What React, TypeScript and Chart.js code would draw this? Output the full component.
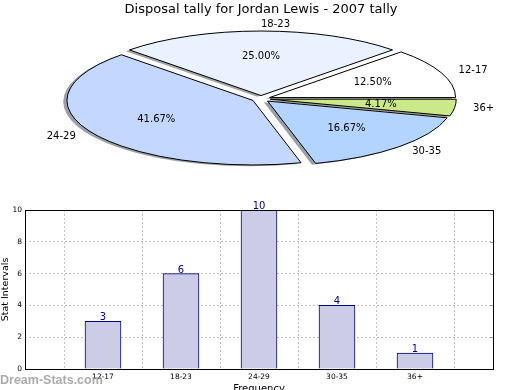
import React, { useEffect, useRef } from 'react';
import { Chart, registerables } from 'chart.js';

Chart.register(...registerables);

// ---------- data ----------
const TITLE = 'Disposal tally for Jordan Lewis - 2007 tally';
const categories = ['12-17', '18-23', '24-29', '30-35', '36+'];
const counts = [3, 6, 10, 4, 1];
const yMin = 0;
const yMax = 10;
const yTickStep = 2;
const xAxisTitle = 'Frequency';
const yAxisTitle = 'Stat Intervals';
const watermark = 'Dream-Stats.com';

// ---------- styles ----------
const pieColors = ['#ffffff', '#eaf2ff', '#c4d8ff', '#b3d4ff', '#cce98a'];
const pieExplode = [0.05, 0.05, 0.05, 0.05, 0.05];
const FONT = "'DejaVu Sans', sans-serif";
const ELLIPSE_Y = 0.347;
const PIE_RADIUS = 186;
const BAR_FILL = '#ccccE6';
const BAR_EDGE = '#000080';
const GRID = 'rgba(150,150,150,0.6)';

function ellipse(ctx: CanvasRenderingContext2D, cx: number, cy: number) {
  ctx.translate(cx, cy);
  ctx.scale(1, -ELLIPSE_Y);
  ctx.translate(-cx, -cy);
}
function project(x: number, y: number, cx: number, cy: number) {
  return [x, cy - ELLIPSE_Y * (y - cy)];
}
function wedgeGeom(el: any, i: number) {
  const p = el.getProps(['x', 'y', 'startAngle', 'endAngle', 'outerRadius'], true);
  const half = (p.startAngle + p.endAngle) / 2;
  const e = pieExplode[i] * p.outerRadius;
  const dx = Math.cos(half) * e;
  const dy = Math.sin(half) * e;
  return {
    dx,
    dy,
    cx: p.x + dx,
    cy: p.y + dy,
    r: p.outerRadius,
    s: p.startAngle,
    e: p.endAngle,
    half,
  };
}
function wedgePath(ctx: CanvasRenderingContext2D, g: any) {
  ctx.beginPath();
  ctx.moveTo(g.cx, g.cy);
  ctx.arc(g.cx, g.cy, g.r, g.s, g.e);
  ctx.closePath();
}
function shadowColor(hex: string) {
  const n = parseInt(hex.slice(1), 16);
  const r = Math.round(((n >> 16) & 255) * 0.3);
  const g = Math.round(((n >> 8) & 255) * 0.3);
  const b = Math.round((n & 255) * 0.3);
  return `rgba(${r},${g},${b},0.5)`;
}

const piePlugin = {
  id: 'ellipsePie',
  beforeDatasetsDraw(chart: any) {
    const ctx = chart.ctx as CanvasRenderingContext2D;
    const meta = chart.getDatasetMeta(0);
    const cx = meta.data[0].x;
    const cy = meta.data[0].y;
    const R = meta.data[0].outerRadius;
    const geoms = meta.data.map((el: any, i: number) => wedgeGeom(el, i));

    // shadows (below every wedge)
    ctx.save();
    ctx.translate(-0.02 * R, 0.02 * R * ELLIPSE_Y);
    ellipse(ctx, cx, cy);
    geoms.forEach((g: any, i: number) => {
      wedgePath(ctx, g);
      ctx.fillStyle = shadowColor(pieColors[i]);
      ctx.fill();
    });
    ctx.restore();

    // wedge fills through the library's arc elements
    meta.data.forEach((el: any, i: number) => {
      ctx.save();
      ellipse(ctx, cx, cy);
      ctx.translate(geoms[i].dx, geoms[i].dy);
      el.draw(ctx);
      ctx.restore();
    });

    // edges with an even 1px width
    geoms.forEach((g: any) => {
      ctx.save();
      ellipse(ctx, cx, cy);
      wedgePath(ctx, g);
      ctx.restore();
      ctx.lineWidth = 1;
      ctx.strokeStyle = '#000';
      ctx.stroke();
    });

    // labels
    const total = counts.reduce((a, b) => a + b, 0);
    ctx.save();
    ctx.fillStyle = '#000';
    ctx.font = `10px ${FONT}`;
    ctx.textBaseline = 'middle';
    geoms.forEach((g: any, i: number) => {
      const c = Math.cos(g.half);
      const s = Math.sin(g.half);
      const [lx, ly] = project(g.cx + 1.1 * g.r * c, g.cy + 1.1 * g.r * s, cx, cy);
      ctx.textAlign = c > -1e-9 ? 'left' : 'right';
      ctx.fillText(categories[i], lx, ly);
      const [px, py] = project(g.cx + 0.6 * g.r * c, g.cy + 0.6 * g.r * s, cx, cy);
      ctx.textAlign = 'center';
      ctx.fillText(((counts[i] / total) * 100).toFixed(2) + '%', px, py);
    });
    ctx.restore();
    return false;
  },
};

const barPlugin = {
  id: 'barExtras',
  afterDraw(chart: any) {
    const ctx = chart.ctx as CanvasRenderingContext2D;
    const { left, right, top, bottom } = chart.chartArea;
    ctx.save();
    // small tick marks on the right edge
    const yScale = chart.scales.y;
    ctx.strokeStyle = '#999';
    ctx.lineWidth = 1;
    yScale.ticks.forEach((t: any) => {
      const py = Math.round(yScale.getPixelForValue(t.value)) + 0.5;
      ctx.beginPath();
      ctx.moveTo(right - 3, py);
      ctx.lineTo(right, py);
      ctx.stroke();
    });
    // frame
    ctx.strokeStyle = '#000';
    ctx.strokeRect(Math.round(left) + 0.5, Math.round(top) + 0.5, Math.round(right - left), Math.round(bottom - top));
    // value labels
    const meta = chart.getDatasetMeta(0);
    ctx.fillStyle = '#00008b';
    ctx.font = `10px ${FONT}`;
    ctx.textAlign = 'center';
    ctx.textBaseline = 'alphabetic';
    meta.data.forEach((bar: any, i: number) => {
      ctx.fillText(String(counts[i]), bar.x, bar.y - 1);
    });
    // watermark
    ctx.font = `bold 12.5px 'Liberation Sans', sans-serif`;
    ctx.fillStyle = 'rgba(150,150,150,0.8)';
    ctx.textAlign = 'left';
    ctx.textBaseline = 'middle';
    ctx.fillText(watermark, 0, 381);
    ctx.restore();
  },
};

export default function App() {
  const pieRef = useRef<HTMLCanvasElement>(null);
  const barRef = useRef<HTMLCanvasElement>(null);

  useEffect(() => {
    const pie = new Chart(pieRef.current as HTMLCanvasElement, {
      type: 'pie',
      data: {
        labels: categories,
        datasets: [
          {
            data: counts,
            backgroundColor: pieColors,
            borderWidth: 0,
            clip: false,
          } as any,
        ],
      },
      options: {
        responsive: false,
        animation: false,
        radius: PIE_RADIUS,
        rotation: 90,
        events: [],
        layout: { padding: { top: 0, bottom: 20, left: 2, right: 0 } },
        plugins: {
          legend: { display: false },
          tooltip: { enabled: false },
          title: {
            display: true,
            text: TITLE,
            color: '#000',
            font: { family: FONT, size: 13, weight: 'normal' },
            padding: { top: 2, bottom: 0 },
          },
        },
      } as any,
      plugins: [piePlugin],
    });

    const bar = new Chart(barRef.current as HTMLCanvasElement, {
      type: 'bar',
      data: {
        datasets: [
          {
            data: categories.map((c, i) => ({ x: i, y: counts[i] })),
            backgroundColor: BAR_FILL,
            borderColor: BAR_EDGE,
            borderWidth: 1,
            barThickness: 36,
          } as any,
        ],
      },
      options: {
        responsive: false,
        animation: false,
        events: [],
        layout: { padding: { top: 210, right: 27, left: 0, bottom: 0 } },
        plugins: { legend: { display: false }, tooltip: { enabled: false } },
        scales: {
          x: {
            type: 'linear',
            min: -1,
            max: categories.length,
            offset: false,
            z: 1,
            ticks: {
              stepSize: 1,
              autoSkip: false,
              maxRotation: 0,
              color: '#000',
              font: { family: FONT, size: 7.5 },
              padding: 4,
              callback: (v: any) => categories[v] ?? '',
            },
            grid: { color: GRID, lineWidth: 1, drawTicks: false },
            border: { display: false, dash: [2, 2] },
            title: {
              display: true,
              text: xAxisTitle,
              color: '#000',
              font: { family: FONT, size: 10 },
              padding: { top: 0, bottom: 7 },
            },
            afterFit: (s: any) => {
              s.height = 33;
            },
          },
          y: {
            min: yMin,
            max: yMax,
            z: 1,
            ticks: {
              stepSize: yTickStep,
              color: '#000',
              font: { family: FONT, size: 7.5 },
              padding: 3,
            },
            grid: { color: GRID, lineWidth: 1, drawTicks: false },
            border: { display: false, dash: [2, 2] },
            title: {
              display: true,
              text: yAxisTitle,
              color: '#000',
              font: { family: FONT, size: 9.5 },
              padding: { top: 0, bottom: 0 },
            },
            afterFit: (s: any) => {
              s.width = 25;
            },
          },
        },
      } as any,
      plugins: [barPlugin],
    });

    return () => {
      pie.destroy();
      bar.destroy();
    };
  }, []);

  return (
    <div
      style={{
        position: 'fixed',
        left: 0,
        top: 0,
        width: 520,
        height: 390,
        overflow: 'hidden',
        background: '#fff',
      }}
    >
      <canvas ref={barRef} width={520} height={402} style={{ position: 'absolute', left: 0, top: 0 }} />
      <canvas ref={pieRef} width={520} height={200} style={{ position: 'absolute', left: 0, top: 0 }} />
    </div>
  );
}
